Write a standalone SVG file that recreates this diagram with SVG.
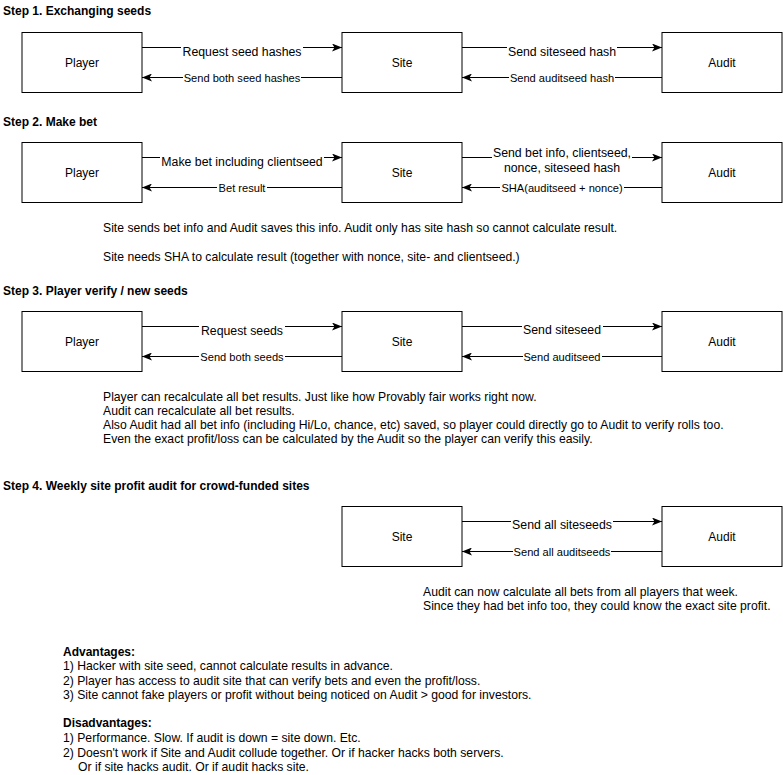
<svg xmlns="http://www.w3.org/2000/svg" width="783" height="775" viewBox="0 0 783 775">
<style>
text{font-family:"Liberation Sans",Arial,sans-serif;fill:#000}
.t{font-size:12px;font-weight:bold}
.n{font-size:12px;text-anchor:middle}
.l{font-size:12.3px;text-anchor:middle}
.s{font-size:11.1px;text-anchor:middle}
.p{font-size:12.2px}
.box{fill:#fff;stroke:#000;stroke-width:1}
.e{stroke:#000;stroke-width:1;fill:none;marker-end:url(#ah)}
.bg{fill:#fff}
</style>
<defs>
<marker id="ah" viewBox="0 0 10 8" refX="10" refY="4" markerWidth="10" markerHeight="8" orient="auto" markerUnits="userSpaceOnUse">
<path d="M10,4 L0,0 L2.5,4 L0,8 Z" fill="#000"/>
</marker>
</defs>
<rect width="783" height="775" fill="#fff"/>

<text class="t" x="3" y="15">Step 1. Exchanging seeds</text>
<text class="t" x="3" y="125.5">Step 2. Make bet</text>
<text class="t" x="3" y="295">Step 3. Player verify / new seeds</text>
<text class="t" x="3" y="489.5">Step 4. Weekly site profit audit for crowd-funded sites</text>

<g id="s1-player"><rect class="box" x="22" y="32.5" width="120" height="60"/><text class="n" x="82" y="66.8">Player</text></g>
<g id="s1-site"><rect class="box" x="342" y="32.5" width="120" height="60"/><text class="n" x="402" y="66.8">Site</text></g>
<g id="s1-audit"><rect class="box" x="662" y="32.5" width="120" height="60"/><text class="n" x="722" y="66.8">Audit</text></g>

<g id="s2-player"><rect class="box" x="22" y="142.5" width="120" height="60"/><text class="n" x="82" y="176.8">Player</text></g>
<g id="s2-site"><rect class="box" x="342" y="142.5" width="120" height="60"/><text class="n" x="402" y="176.8">Site</text></g>
<g id="s2-audit"><rect class="box" x="662" y="142.5" width="120" height="60"/><text class="n" x="722" y="176.8">Audit</text></g>

<g id="s3-player"><rect class="box" x="22" y="311.5" width="120" height="60"/><text class="n" x="82" y="345.8">Player</text></g>
<g id="s3-site"><rect class="box" x="342" y="311.5" width="120" height="60"/><text class="n" x="402" y="345.8">Site</text></g>
<g id="s3-audit"><rect class="box" x="662" y="311.5" width="120" height="60"/><text class="n" x="722" y="345.8">Audit</text></g>

<g id="s4-site"><rect class="box" x="342" y="506.5" width="120" height="60"/><text class="n" x="402" y="540.8">Site</text></g>
<g id="s4-audit"><rect class="box" x="662" y="506.5" width="120" height="60"/><text class="n" x="722" y="540.8">Audit</text></g>

<g id="connectors">
<!-- step 1 -->
<path class="e" d="M142,47.5 H342"/>
<rect class="bg" x="181" y="44" width="122" height="16"/>
<text class="l" x="242" y="56">Request seed hashes</text>
<path class="e" d="M342,77.5 H142"/>
<rect class="bg" x="183" y="72" width="118" height="12"/>
<text class="s" x="242" y="81.5">Send both seed hashes</text>
<path class="e" d="M462,47.5 H662"/>
<rect class="bg" x="507" y="44" width="110" height="16"/>
<text class="l" x="562" y="56">Send siteseed hash</text>
<path class="e" d="M662,77.5 H462"/>
<rect class="bg" x="509" y="72" width="106" height="12"/>
<text class="s" x="562" y="81.5">Send auditseed hash</text>
<!-- step 2 -->
<path class="e" d="M142,157.5 H342"/>
<rect class="bg" x="160" y="154" width="164" height="16"/>
<text class="l" x="242" y="166">Make bet including clientseed</text>
<path class="e" d="M342,187.5 H142"/>
<rect class="bg" x="217" y="182" width="50" height="12"/>
<text class="s" x="242" y="191.5">Bet result</text>
<path class="e" d="M462,157.5 H662"/>
<rect class="bg" x="492" y="146" width="140" height="30"/>
<text class="l" x="562" y="157">Send bet info, clientseed,</text>
<text class="l" x="562" y="172">nonce, siteseed hash</text>
<path class="e" d="M662,187.5 H462"/>
<rect class="bg" x="500" y="182" width="124" height="12"/>
<text class="s" x="562" y="191.5">SHA(auditseed + nonce)</text>
<!-- step 3 -->
<path class="e" d="M142,326.5 H342"/>
<rect class="bg" x="199" y="323" width="86" height="16"/>
<text class="l" x="242" y="334.5">Request seeds</text>
<path class="e" d="M342,356.5 H142"/>
<rect class="bg" x="199" y="351" width="86" height="12"/>
<text class="s" x="242" y="360.5">Send both seeds</text>
<path class="e" d="M462,326.5 H662"/>
<rect class="bg" x="522" y="322" width="81" height="16"/>
<text class="l" x="562" y="333.5">Send siteseed</text>
<path class="e" d="M662,356.5 H462"/>
<rect class="bg" x="523" y="351" width="79" height="12"/>
<text class="s" x="562" y="360.5">Send auditseed</text>
<!-- step 4 -->
<path class="e" d="M462,521.5 H662"/>
<rect class="bg" x="511" y="518" width="102" height="16"/>
<text class="l" x="562" y="529">Send all siteseeds</text>
<path class="e" d="M662,551.5 H462"/>
<rect class="bg" x="513" y="546" width="98" height="12"/>
<text class="s" x="562" y="555.5">Send all auditseeds</text>
</g>

<text class="p" x="103" y="232">Site sends bet info and Audit saves this info. Audit only has site hash so cannot calculate result.</text>
<text class="p" x="103" y="261">Site needs SHA to calculate result (together with nonce, site- and clientseed.)</text>

<text class="p" x="103" y="400.5">Player can recalculate all bet results. Just like how Provably fair works right now.</text>
<text class="p" x="103" y="414.5">Audit can recalculate all bet results.</text>
<text class="p" x="103" y="428.5">Also Audit had all bet info (including Hi/Lo, chance, etc) saved, so player could directly go to Audit to verify rolls too.</text>
<text class="p" x="103" y="442.5">Even the exact profit/loss can be calculated by the Audit so the player can verify this easily.</text>

<text class="p" x="423" y="596">Audit can now calculate all bets from all players that week.</text>
<text class="p" x="423" y="610">Since they had bet info too, they could know the exact site profit.</text>

<text class="t" x="63" y="656">Advantages:</text>
<text class="p" x="63" y="670">1) Hacker with site seed, cannot calculate results in advance.</text>
<text class="p" x="63" y="684.5">2) Player has access to audit site that can verify bets and even the profit/loss.</text>
<text class="p" x="63" y="698.5">3) Site cannot fake players or profit without being noticed on Audit &gt; good for investors.</text>
<text class="t" x="63" y="727">Disadvantages:</text>
<text class="p" x="63" y="742">1) Performance. Slow. If audit is down = site down. Etc.</text>
<text class="p" x="63" y="756.5">2) Doesn't work if Site and Audit collude together. Or if hacker hacks both servers.</text>
<text class="p" x="78" y="770.5">Or if site hacks audit. Or if audit hacks site.</text>
</svg>
